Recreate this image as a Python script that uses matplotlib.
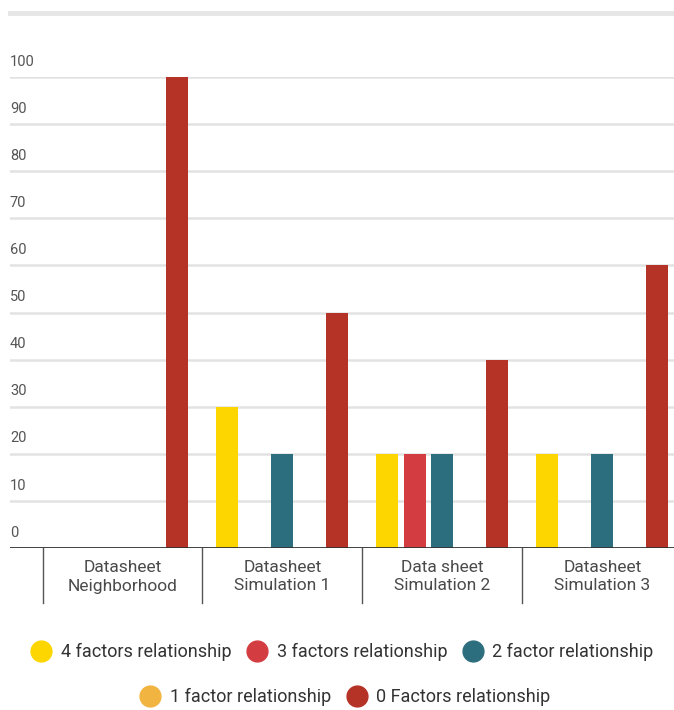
import matplotlib.pyplot as plt
import matplotlib.transforms as mtransforms
from matplotlib.lines import Line2D
import numpy as np

plt.rcParams['font.family'] = ['Roboto', 'DejaVu Sans']

categories = ['Datasheet\nNeighborhood', 'Datasheet\nSimulation 1',
              'Data sheet\nSimulation 2', 'Datasheet\nSimulation 3']
series_names = ['4 factors relationship', '3 factors relationship',
                '2 factor relationship', '1 factor relationship',
                '0 Factors relationship']
four_factors = [0, 30, 20, 20]
three_factors = [0, 0, 20, 0]
two_factors = [0, 20, 20, 20]
one_factor = [0, 0, 0, 0]
zero_factors = [100, 50, 40, 60]
yticks = [0, 10, 20, 30, 40, 50, 60, 70, 80, 90, 100]

colors = ['#FDD600', '#D33D42', '#2D6E7E', '#F2B440', '#B53226']
series = [four_factors, three_factors, two_factors, one_factor, zero_factors]

fig = plt.figure(figsize=(6.74, 7.10), dpi=100)
W, H = 674, 710
ax = fig.add_axes([10 / W, (H - 548) / H, 664 / W, 471 / H])

x = np.arange(len(categories))
pitch = 27.5 / 160
width = 22 / 160
for k, (vals, c) in enumerate(zip(series, colors)):
    ax.bar(x + (k - 2) * pitch, vals, width, color=c, zorder=3)

ax.set_ylim(0, 100)
ax.set_xlim((10 - 122.5) / 160, (674 - 122.5) / 160)
for s in ax.spines.values():
    s.set_visible(False)
ax.set_xticks([])
ax.set_yticks([])

# gridlines and labels sitting above them
for t in yticks:
    if t == 0:
        ax.axhline(0, color='#333333', lw=1.3, zorder=4)
    else:
        ax.axhline(t, color='#e2e2e2', lw=1.8, zorder=1)
    ax.annotate(str(t), xy=(0, t), xycoords=('axes fraction', 'data'),
                xytext=(0, 6), textcoords='offset points',
                fontsize=10.5, color='#555555', ha='left', va='bottom')

# category dividers below axis
trans = mtransforms.blended_transform_factory(ax.transData, ax.transAxes)
for b in np.arange(len(categories)) - 0.5:
    ax.plot([b, b], [0, -55 / 471], color='#555555', lw=1,
            transform=trans, clip_on=False)
for xi, lab in zip(x, categories):
    ax.text(xi, -29 / 471, lab, transform=trans, ha='center', va='center',
            fontsize=12.5, color='#4a4a4a', linespacing=1.25)

# light rule at top
fig.add_artist(Line2D([10 / W, 672 / W], [(H - 13) / H, (H - 13) / H],
                      color='#e6e6e6', lw=3.5))

handles = [Line2D([], [], marker='o', ls='', markersize=15,
                  markerfacecolor=c, markeredgecolor=c) for c in colors]
fig.legend(handles[:3], series_names[:3], loc='center',
           bbox_to_anchor=(342 / W, (H - 652) / H), ncol=3,
           frameon=False, fontsize=13, handletextpad=0.5,
           columnspacing=0.8, handlelength=1.2, labelcolor='#333333')
fig.legend(handles[3:], series_names[3:], loc='center',
           bbox_to_anchor=(345 / W, (H - 697) / H), ncol=2,
           frameon=False, fontsize=13, handletextpad=0.5,
           columnspacing=0.8, handlelength=1.2, labelcolor='#333333')

fig.savefig('out.png', dpi=100)
